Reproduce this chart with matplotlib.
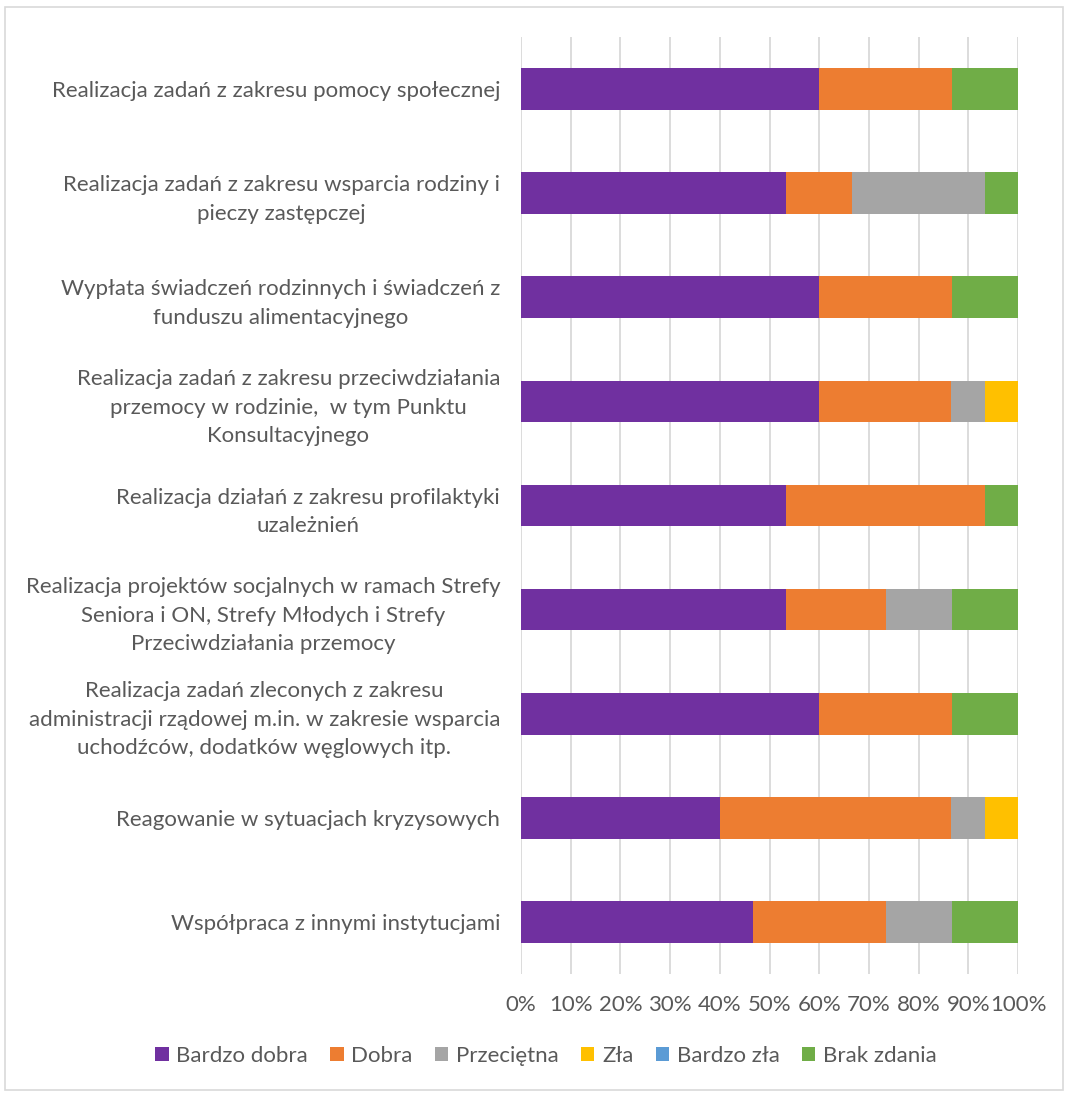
import numpy as np
import matplotlib
matplotlib.use("Agg")
import matplotlib.pyplot as plt
from matplotlib.patches import Rectangle
from matplotlib.ticker import PercentFormatter

categories = [
    "Realizacja zadań z zakresu pomocy społecznej",
    "Realizacja zadań z zakresu wsparcia rodziny i\npieczy zastępczej",
    "Wypłata świadczeń rodzinnych i świadczeń z\nfunduszu alimentacyjnego",
    "Realizacja zadań z zakresu przeciwdziałania\nprzemocy w rodzinie,  w tym Punktu\nKonsultacyjnego",
    "Realizacja działań z zakresu profilaktyki\nuzależnień",
    "Realizacja projektów socjalnych w ramach Strefy\nSeniora i ON, Strefy Młodych i Strefy\nPrzeciwdziałania przemocy",
    "Realizacja zadań zleconych z zakresu\nadministracji rządowej m.in. w zakresie wsparcia\nuchodźców, dodatków węglowych itp.",
    "Reagowanie w sytuacjach kryzysowych",
    "Współpraca z innymi instytucjami",
]
series = ["Bardzo dobra", "Dobra", "Przeciętna", "Zła", "Bardzo zła", "Brak zdania"]
colors = ["#7030A0", "#ED7D31", "#A5A5A5", "#FFC000", "#5B9BD5", "#70AD47"]

# percent of answers per category (order as in categories)
bardzo_dobra = [60.0, 53.3, 60.0, 60.0, 53.3, 53.3, 60.0, 40.0, 46.7]
dobra        = [26.7, 13.3, 26.7, 26.7, 40.0, 20.0, 26.7, 46.7, 26.7]
przecietna   = [0.0, 26.7, 0.0, 6.7, 0.0, 13.3, 0.0, 6.7, 13.3]
zla          = [0.0, 0.0, 0.0, 6.7, 0.0, 0.0, 0.0, 6.7, 0.0]
bardzo_zla   = [0.0, 0.0, 0.0, 0.0, 0.0, 0.0, 0.0, 0.0, 0.0]
brak_zdania  = [13.3, 6.7, 13.3, 0.0, 6.7, 13.3, 13.3, 0.0, 13.3]

plt.rcParams["font.family"] = ["Lato", "DejaVu Sans"]
TXT = "#595959"
FS = 16

fig = plt.figure(figsize=(10.65, 10.93), dpi=100)
ax = fig.add_axes([521 / 1065, 1 - 974 / 1093, (1018 - 521) / 1065, (974 - 37) / 1093])

data = np.array([bardzo_dobra, dobra, przecietna, zla, bardzo_zla, brak_zdania])
data = data / data.sum(axis=0) * 100
y = np.arange(len(categories))
left = np.zeros(len(categories))
for name, vals, c in zip(series, data, colors):
    ax.barh(y, vals, left=left, height=0.4, color=c, label=name, zorder=3)
    left += vals

ax.set_xlim(0, 100)
ax.set_ylim(len(categories) - 0.5, -0.5)
ax.set_xticks(np.arange(0, 101, 10))
ax.xaxis.set_major_formatter(PercentFormatter(decimals=0))
ax.set_yticks(y)
ax.set_yticklabels(categories, multialignment="center", linespacing=1.53)
ax.grid(axis="x", color="#D9D9D9", lw=1.3, zorder=0)
for s in ax.spines.values():
    s.set_visible(False)
ax.tick_params(length=0, colors=TXT, labelsize=FS)
ax.tick_params(axis="y", pad=15)
ax.tick_params(axis="x", pad=15)

leg = fig.legend(loc="center", bbox_to_anchor=(546 / 1065, 1 - 1056 / 1093), ncol=6,
                 frameon=False, fontsize=FS, handlelength=0.6, handleheight=0.6,
                 handletextpad=0.35, columnspacing=1.0)
for t in leg.get_texts():
    t.set_color(TXT)

fig.patches.append(Rectangle((5 / 1065, 3 / 1093), 1058 / 1065, 1083 / 1093,
                             transform=fig.transFigure, fill=False,
                             edgecolor="#D9D9D9", lw=1.2))
fig.savefig("out.png", dpi=100, facecolor="white")
